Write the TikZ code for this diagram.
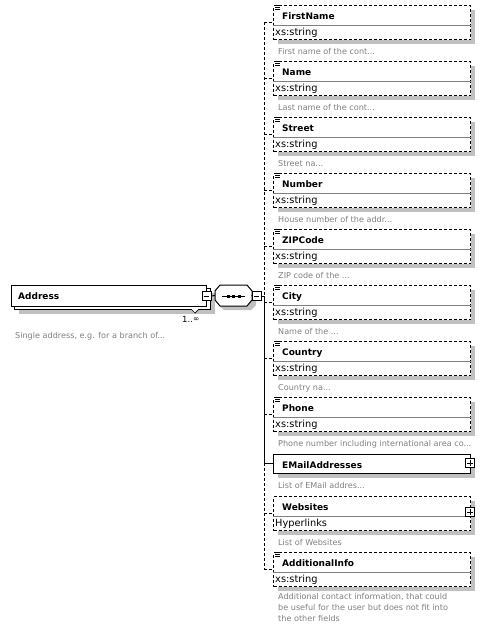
\documentclass[tikz,border=0pt]{standalone}
\usepackage{fontspec}
\setmainfont{DejaVu Sans}
\usetikzlibrary{shadows}
\definecolor{shadowgray}{RGB}{192,192,192}
\definecolor{descgray}{RGB}{128,128,128}
\definecolor{sepgray}{RGB}{128,128,128}
\tikzset{
  shad/.style={drop shadow={shadow xshift=4pt,shadow yshift=-4pt,fill=shadowgray,opacity=1}},
  optline/.style={line width=1pt, dash pattern=on 3pt off 2pt},
  reqline/.style={line width=1pt},
  optbox/.style={draw, fill=white, optline, minimum width=197pt, minimum height=34pt, inner sep=0pt, anchor=north west, shad},
  reqbox/.style={draw, fill=white, reqline, inner sep=0pt, anchor=north west},
  sepline/.style={line width=1pt, draw=sepgray},
  nametext/.style={anchor=base west, inner sep=0pt, font=\bfseries\fontsize{9}{11}\selectfont},
  typetext/.style={anchor=base west, inner sep=0pt, font=\fontsize{9.8}{11}\selectfont},
  desctext/.style={anchor=base west, inner sep=0pt, text=descgray, font=\fontsize{8.1}{11}\selectfont},
  pmbox/.style={draw, fill=white, line width=0.8pt, minimum size=9pt, inner sep=0pt},
  pmline/.style={line width=0.8pt},
  iconline/.style={line width=0.8pt}
}
\newcommand{\elembox}[4]{%
  \node[optbox] (#1) at (273,#2) {};
  \draw[sepline] ([shift={(0,20)}]#1.north west) -- ([shift={(0,20)}]#1.north east);
  \node[nametext] (#1n) at ([shift={(9,14)}]#1.north west) {#3};
  \node[typetext] (#1t) at ([shift={(2,30)}]#1.north west) {#4};
  \coordinate (#1j) at (264,#2+17);
  \draw[optline] (#1j) -- (#1j -| #1.west);
}
\newcommand{\simpleicon}[1]{%
  \foreach \k in {0,2,4} {\draw[iconline] ([shift={(2,\k)}]#1.north west) -- ++(5,0);}
}
\newcommand{\elemdesc}[3]{%
  \node[desctext] (#1d) at ([shift={(5,#2)}]#1.north west) {#3};
}
\begin{document}
\begin{tikzpicture}[x=1pt,y=-1pt]
\useasboundingbox (0,0) rectangle (484,630);
\fill[white] (0,0) rectangle (484,630);

% Address element (multiple occurrence)
\node[reqbox, minimum width=196pt, minimum height=21pt, shad] (addrb) at (14,288) {};
\node[reqbox, minimum width=195pt, minimum height=21pt] (addr) at (11,285) {};
\node[nametext] (addrn) at (18,299) {Address};
\node[pmbox] (addrm) at (206.5,296) {};
\draw[pmline] ([xshift=2pt]addrm.west) -- ([xshift=-2pt]addrm.east);
\draw[fill=white, line width=0.7pt] (191,309) -- (195,313) -- (199,309);
\node[anchor=base west, inner sep=0pt, font=\fontsize{8.5}{10}\selectfont] (occ) at (182,322.5) {1..\raisebox{1.5pt}{\fontsize{7.5}{7.5}\selectfont ∞}};
\node[desctext] (addrd) at (15,338) {Single address, e.g. for a branch of...};

% sequence compositor
\node[inner sep=0pt, minimum width=37pt, minimum height=21pt] (seq) at (233.5,295.5) {};
\fill[shadowgray] (219,291) -- (224,289) -- (251,289) -- (256,295) -- (256,305) -- (251,310) -- (224,310) -- (219,305) -- cycle;
\draw[fill=white, line width=1pt] (215,291) -- (220,285) -- (247,285) -- (252,291) -- (252,300) -- (247,306) -- (220,306) -- (215,300) -- cycle;
\draw[line width=0.8pt] (222,296) -- (245,296);
\foreach \sx in {228,233.5,239} {\fill (\sx-1.5,294.5) rectangle ++(3,3);}
\node[pmbox] (seqm) at (256.5,296) {};
\draw[pmline] ([xshift=2pt]seqm.west) -- ([xshift=-2pt]seqm.east);
\coordinate (jseq) at (264,296);
\draw[reqline] (addrm.east) -- (seq.west);
\draw[reqline] (seq.east) -- (seqm.west);
\draw[reqline] (seqm.east) -- (jseq);

% child elements
\elembox{e1}{5}{FirstName}{xs:string}\simpleicon{e1}\elemdesc{e1}{49}{First name of the cont...}
\elembox{e2}{61}{Name}{xs:string}\simpleicon{e2}\elemdesc{e2}{49}{Last name of the cont...}
\elembox{e3}{117}{Street}{xs:string}\simpleicon{e3}\elemdesc{e3}{49}{Street na...}
\elembox{e4}{173}{Number}{xs:string}\simpleicon{e4}\elemdesc{e4}{49}{House number of the addr...}
\elembox{e5}{229}{ZIPCode}{xs:string}\simpleicon{e5}\elemdesc{e5}{49}{ZIP code of the ...}
\elembox{e6}{285}{City}{xs:string}\simpleicon{e6}\elemdesc{e6}{49}{Name of the ...}
\elembox{e7}{341}{Country}{xs:string}\simpleicon{e7}\elemdesc{e7}{49}{Country na...}
\elembox{e8}{397}{Phone}{xs:string}\simpleicon{e8}\elemdesc{e8}{49}{Phone number including international area co...}

% EMailAddresses (required, complex)
\node[reqbox, minimum width=197pt, minimum height=19pt, shad] (e9) at (273,454) {};
\node[nametext] (e9n) at ([shift={(9,14)}]e9.north west) {EMailAddresses};
\coordinate (e9j) at (264,463);
\draw[reqline] (e9j) -- (e9j -| e9.west);
\node[pmbox] (e9p) at (470,463) {};
\draw[pmline] ([xshift=2pt]e9p.west) -- ([xshift=-2pt]e9p.east);
\draw[pmline] ([yshift=2pt]e9p.south) -- ([yshift=-2pt]e9p.north);
\elemdesc{e9}{34}{List of EMail addres...}

% Websites
\elembox{e10}{496}{Websites}{Hyperlinks}
\node[pmbox] (e10p) at (470,512) {};
\draw[pmline] ([xshift=2pt]e10p.west) -- ([xshift=-2pt]e10p.east);
\draw[pmline] ([yshift=2pt]e10p.south) -- ([yshift=-2pt]e10p.north);
\elemdesc{e10}{49}{List of Websites}

% AdditionalInfo
\elembox{e11}{552}{AdditionalInfo}{xs:string}\simpleicon{e11}
\node[desctext] (e11d1) at ([shift={(5,47.5)}]e11.north west) {Additional contact information, that could};
\node[desctext] (e11d2) at ([shift={(5,58.5)}]e11.north west) {be useful for the user but does not fit into};
\node[desctext] (e11d3) at ([shift={(5,69.5)}]e11.north west) {the other fields};

% sequence spine
\draw[optline] (e1j) -- (jseq);
\draw[reqline] (jseq) -- (e9j);
\draw[optline] (e9j) -- (e11j);
\end{tikzpicture}
\end{document}
